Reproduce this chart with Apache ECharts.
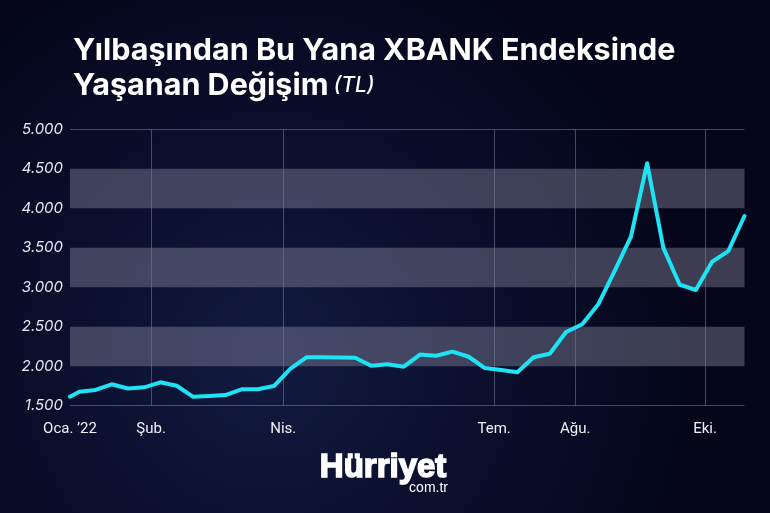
<!DOCTYPE html>
<html>
<head>
<meta charset="utf-8">
<script src="https://cdn.jsdelivr.net/npm/echarts@6/dist/echarts.min.js"></script>
<style>
html,body{margin:0;padding:0;background:#070a1c;}
#c{width:770px;height:513px;}
</style>
</head>
<body>
<div id="c"></div>
<script>
// ---- data ----
var dates = ['2022-01-03','2022-01-07','2022-01-14','2022-01-21','2022-01-28',
  '2022-02-04','2022-02-11','2022-02-18','2022-02-25',
  '2022-03-04','2022-03-11','2022-03-18','2022-03-25',
  '2022-04-01','2022-04-08','2022-04-15','2022-04-22','2022-04-29',
  '2022-05-06','2022-05-13','2022-05-20','2022-05-27',
  '2022-06-03','2022-06-10','2022-06-17','2022-06-24',
  '2022-07-01','2022-07-08','2022-07-15','2022-07-22','2022-07-29',
  '2022-08-05','2022-08-12','2022-08-19','2022-08-26',
  '2022-09-02','2022-09-09','2022-09-16','2022-09-23','2022-09-30',
  '2022-10-07','2022-10-14','2022-10-21'];
var values = [1614,1677,1699,1771,1718,1733,1796,1753,1614,1623,1635,1708,1708,1749,
  1967,2113,2113,2110,2108,2005,2025,1994,2148,2133,2184,2120,1977,1952,1924,2113,
  2158,2433,2532,2788,3208,3640,4570,3499,3034,2965,3323,3458,3902];
var tickDates = ['2022-01-03','2022-02-07','2022-04-05','2022-07-05','2022-08-09','2022-10-04'];
var tickLabels = ['Oca. \u201922','Şub.','Nis.','Tem.','Ağu.','Eki.'];
var yMin = 1500, yMax = 5000, yStep = 500;
var titleLine1 = 'Yılbaşından Bu Yana XBANK Endeksinde';
var titleLine2 = 'Yaşanan Değişim';
var titleUnit = '(TL)';

// ---- build (x = days since first date) ----
var DAY = 86400000;
function ts(s){ var p = s.split('-'); return Date.UTC(+p[0], +p[1]-1, +p[2]); }
var t0 = ts(dates[0]);
function dayOf(s){ return Math.round((ts(s) - t0) / DAY); }
var tickDays = tickDates.map(dayOf);
var gridDays = tickDays.slice(1);
var seriesData = dates.map(function(d,i){ return [dayOf(d), values[i]]; });

var chart = echarts.init(document.getElementById('c'), null, {renderer:'canvas'});
var gridCol = 'rgba(120,125,150,0.55)';
var yLineColors = [];
for (var v = yMin; v <= yMax; v += yStep) yLineColors.push((v===yMin||v===yMax)?gridCol:'rgba(0,0,0,0)');

chart.setOption({
  backgroundColor: {
    type:'radial', x:0.35, y:0.7, r:0.85,
    colorStops:[{offset:0,color:'#111a40'},{offset:0.5,color:'#0a0f2c'},{offset:1,color:'#05061a'}]
  },
  animation:false,
  title:{
    left:73, top:33, padding:0,
    text:'{a|'+titleLine1+'}\n{a|'+titleLine2+'} {b|'+titleUnit+'}',
    textStyle:{
      rich:{
        a:{fontFamily:'Inter',fontSize:30.5,fontWeight:'bold',color:'#ffffff',lineHeight:35},
        b:{fontFamily:'Inter',fontSize:21,fontStyle:'italic',fontWeight:500,color:'#ffffff',lineHeight:35}
      }
    }
  },
  grid:{left:70, right:25.5, top:129.3, bottom:107.3},
  xAxis:{
    type:'value',
    min: 0, max: dayOf(dates[dates.length-1]),
    axisLine:{show:false},
    axisTick:{show:false, customValues: gridDays},
    splitLine:{show:true, lineStyle:{color:gridCol, width:1}},
    axisLabel:{
      customValues: tickDays,
      margin:16,
      color:'#f0f0f5', fontFamily:'Roboto', fontSize:15,
      formatter:function(val){ var i = tickDays.indexOf(val); return i>=0?tickLabels[i]:''; }
    }
  },
  yAxis:{
    type:'value', min:yMin, max:yMax, interval:yStep,
    axisLine:{show:false}, axisTick:{show:false},
    splitLine:{show:true, lineStyle:{color:yLineColors, width:1}},
    splitArea:{show:true, areaStyle:{color:['rgba(0,0,0,0)','rgba(160,162,180,0.36)']}},
    axisLabel:{
      margin:7, color:'#e8e8f0', fontFamily:'Inter', fontStyle:'italic', fontSize:15,
      formatter:function(v){ return (v/1000).toFixed(3); }
    }
  },
  series:[{
    type:'line', data:seriesData, showSymbol:false, smooth:false, z:5,
    lineStyle:{color:'#1de4f4', width:4, join:'round', cap:'round'}
  }],
  graphic:[
    {type:'text', left:319, top:451, style:{text:'Hürriyet', fill:'#ffffff', stroke:'#ffffff', lineWidth:1.6, font:'bold 33px "Liberation Sans", Arial, sans-serif'}},
    {type:'text', right:322, top:481, style:{text:'com.tr', fill:'#ffffff', font:'400 14px "Liberation Sans", Arial, sans-serif'}}
  ]
});
</script>
</body>
</html>
